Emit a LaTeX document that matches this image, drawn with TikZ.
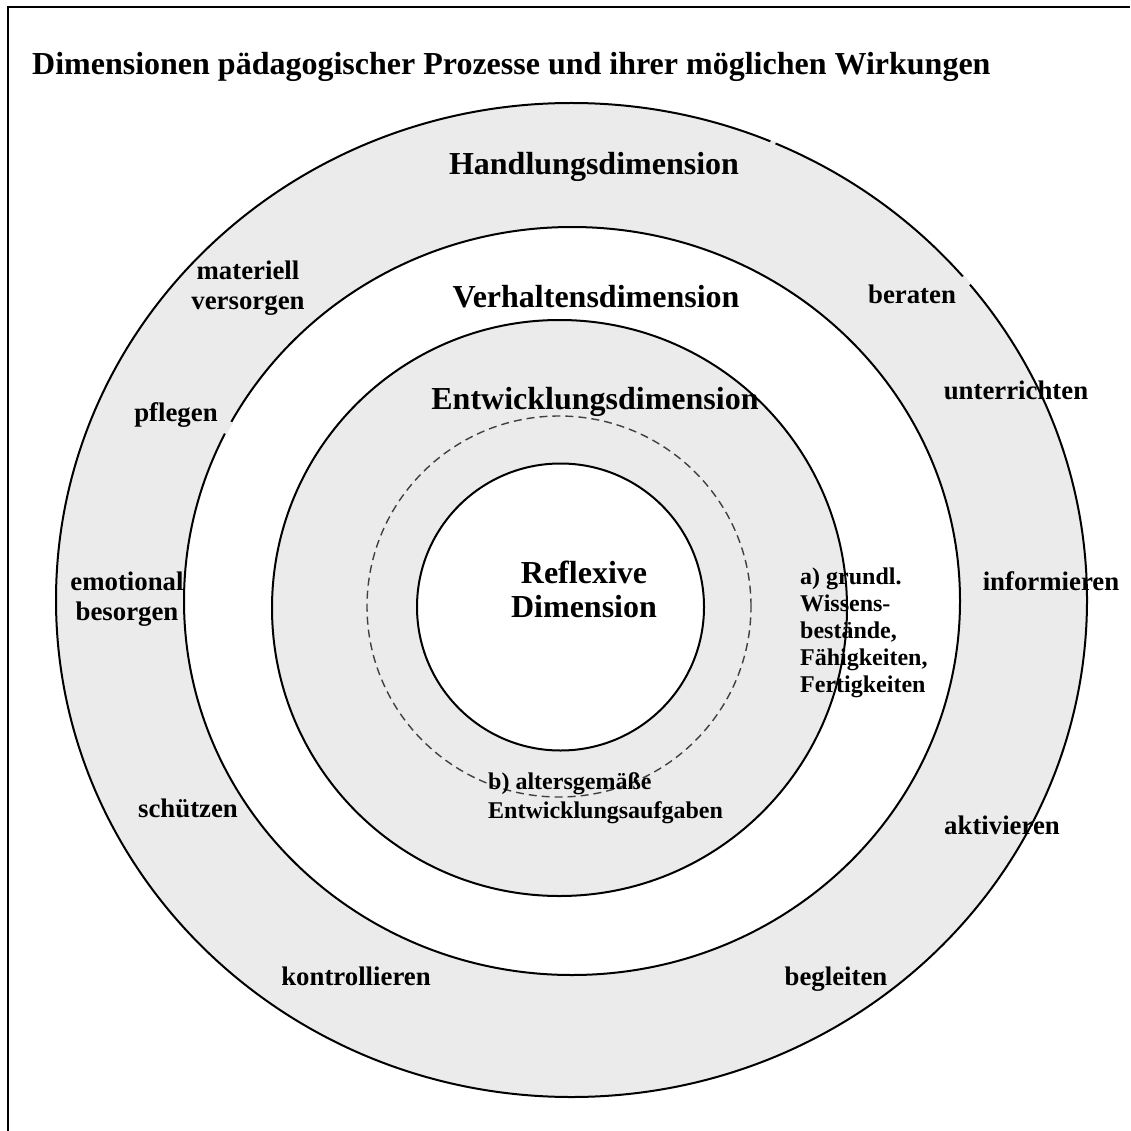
\documentclass[tikz,border=0pt]{standalone}
\usepackage{fontspec}
\setmainfont{Liberation Serif}
\definecolor{ringgray}{RGB}{235,235,235}
\begin{document}
\begin{tikzpicture}[x=1pt,y=-1pt,
  ring/.style={draw=black,line width=2pt},
  gap/.style={draw=ringgray,line width=3.5pt},
  heading/.style={font=\fontsize{32}{34}\selectfont\bfseries, inner sep=0pt, align=center},
  ringlabel/.style={font=\fontsize{26.8}{30}\selectfont\bfseries, inner sep=0pt, align=center},
  detail/.style={font=\fontsize{24}{27}\selectfont\bfseries, inner sep=0pt, align=left},
]
\useasboundingbox (0,0) rectangle (1130,1131);
\fill[white] (0,0) rectangle (1130,1131);
% open frame: left and top edges
\draw[line width=2pt] (8,1131) -- (8,7) -- (1130,7);

% concentric rings, outermost first
\path[ring, fill=ringgray] (571.5,600) ellipse [x radius=515.5pt, y radius=497pt];
\path[ring, fill=white]    (572,601)   ellipse [x radius=388pt, y radius=374pt];
\path[ring, fill=ringgray] (559.5,608) ellipse [x radius=287.5pt, y radius=288pt];
\draw[black!75, line width=1.4pt, dash pattern=on 8pt off 5pt]
      (559,606.5) ellipse [x radius=192pt, y radius=190.5pt];
\path[ring, fill=white]    (560.5,607) circle [radius=143.5pt];

% small breaks in the ring outlines
\draw[gap] (571.5,600) ++(66.7:515.5pt and 497pt)
  arc[start angle=66.7, end angle=67.3, x radius=515.5pt, y radius=497pt];
\draw[gap] (571.5,600) ++(39.4:515.5pt and 497pt)
  arc[start angle=39.4, end angle=40.6, x radius=515.5pt, y radius=497pt];
\draw[gap] (572,601) ++(151.4:388pt and 374pt)
  arc[start angle=151.4, end angle=153.4, x radius=388pt, y radius=374pt];

% title
\node[heading, anchor=base west] (title) at (32,75)
  {Dimensionen pädagogischer Prozesse und ihrer möglichen Wirkungen};

% dimension headings
\node[heading, anchor=base] (hand) at (594,175) {Handlungsdimension};
\node[heading, anchor=base] (verh) at (596,307) {Verhaltensdimension};
\node[heading, anchor=base] (entw) at (595,409) {Entwicklungsdimension};
\node[heading, anchor=base] (refl) at (584,617) {Reflexive\\Dimension};

% activities in the outer ring
\node[ringlabel, anchor=base] (mat)  at (248,309) {materiell\\versorgen};
\node[ringlabel, anchor=base] (pfl)  at (176,421) {pflegen};
\node[ringlabel, anchor=base] (emo)  at (127,620) {emotional\\besorgen};
\node[ringlabel, anchor=base] (sch)  at (188,817) {schützen};
\node[ringlabel, anchor=base] (kon)  at (356,985) {kontrollieren};
\node[ringlabel, anchor=base] (beg)  at (836,985) {begleiten};
\node[ringlabel, anchor=base] (akt)  at (1002,834) {aktivieren};
\node[ringlabel, anchor=base] (inf)  at (1051,590) {informieren};
\node[ringlabel, anchor=base] (unt)  at (1016,399) {unterrichten};
\node[ringlabel, anchor=base] (ber)  at (912,303) {beraten};

% developmental tasks
\node[detail, anchor=base west] (grund) at (800,692)
  {a) grundl.\\Wissens-\\bestände,\\Fähigkeiten,\\Fertigkeiten};
\node[detail, anchor=base west, font=\fontsize{24}{29}\selectfont\bfseries] (alter) at (488,818)
  {b) altersgemäße\\Entwicklungsaufgaben};
\end{tikzpicture}
\end{document}
